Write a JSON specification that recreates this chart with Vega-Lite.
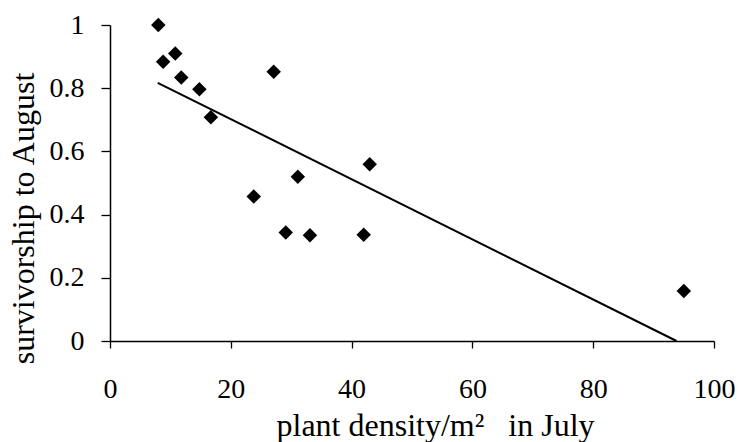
{
  "$schema": "https://vega.github.io/schema/vega-lite/v6.json",
  "width": 604,
  "height": 316,
  "autosize": {"type": "none"},
  "padding": {"left": 110, "top": 25, "right": 28, "bottom": 101},
  "background": "white",
  "config": {
    "view": {"stroke": null},
    "font": "Liberation Serif",
    "axis": {
      "grid": false,
      "labelFlush": false,
      "labelOverlap": false,
      "domainColor": "black",
      "domainWidth": 1.5,
      "tickColor": "black",
      "tickWidth": 1.3,
      "labelFont": "Liberation Serif",
      "labelFontSize": 28,
      "labelColor": "black",
      "titleFont": "Liberation Serif",
      "titleFontSize": 32,
      "titleFontWeight": "normal",
      "titleColor": "black"
    }
  },
  "datasets": {
    "points": [
      {"density": 8, "survivorship": 1.0},
      {"density": 8.8, "survivorship": 0.884},
      {"density": 10.8, "survivorship": 0.91},
      {"density": 11.8, "survivorship": 0.834},
      {"density": 14.8, "survivorship": 0.797},
      {"density": 16.7, "survivorship": 0.708},
      {"density": 23.8, "survivorship": 0.457},
      {"density": 27.1, "survivorship": 0.852},
      {"density": 29.1, "survivorship": 0.343},
      {"density": 31.1, "survivorship": 0.52},
      {"density": 33.1, "survivorship": 0.335},
      {"density": 42.0, "survivorship": 0.336},
      {"density": 43.0, "survivorship": 0.559},
      {"density": 95.0, "survivorship": 0.158}
    ],
    "fit": [
      {"density": 7.9, "survivorship": 0.817},
      {"density": 93.8, "survivorship": 0.0}
    ]
  },
  "layer": [
    {
      "data": {"name": "fit"},
      "mark": {"type": "line", "color": "black", "strokeWidth": 2},
      "encoding": {
        "x": {"field": "density", "type": "quantitative"},
        "y": {"field": "survivorship", "type": "quantitative"}
      }
    },
    {
      "data": {"name": "points"},
      "mark": {"type": "point", "shape": "diamond", "filled": true, "color": "black", "opacity": 1, "size": 210},
      "encoding": {
        "x": {
          "field": "density",
          "type": "quantitative",
          "scale": {"domain": [0, 100], "nice": false, "zero": false},
          "axis": {
            "values": [0, 20, 40, 60, 80, 100],
            "tickSize": 7,
            "labelPadding": 27,
            "title": "plant density/m\u00b2\u00a0\u00a0\u00a0in July",
            "titleX": 325,
            "titleY": 94,
            "titleBaseline": "alphabetic",
            "titleAnchor": null
          }
        },
        "y": {
          "field": "survivorship",
          "type": "quantitative",
          "scale": {"domain": [0, 1], "nice": false, "zero": false},
          "axis": {
            "values": [0, 0.2, 0.4, 0.6, 0.8, 1],
            "format": "~g",
            "tickSize": 9,
            "labelPadding": 17,
            "title": "survivorship to August",
            "titleX": -77,
            "titleY": 193,
            "titleAngle": -90,
            "titleAlign": "center",
            "titleBaseline": "alphabetic"
          }
        }
      }
    }
  ]
}
